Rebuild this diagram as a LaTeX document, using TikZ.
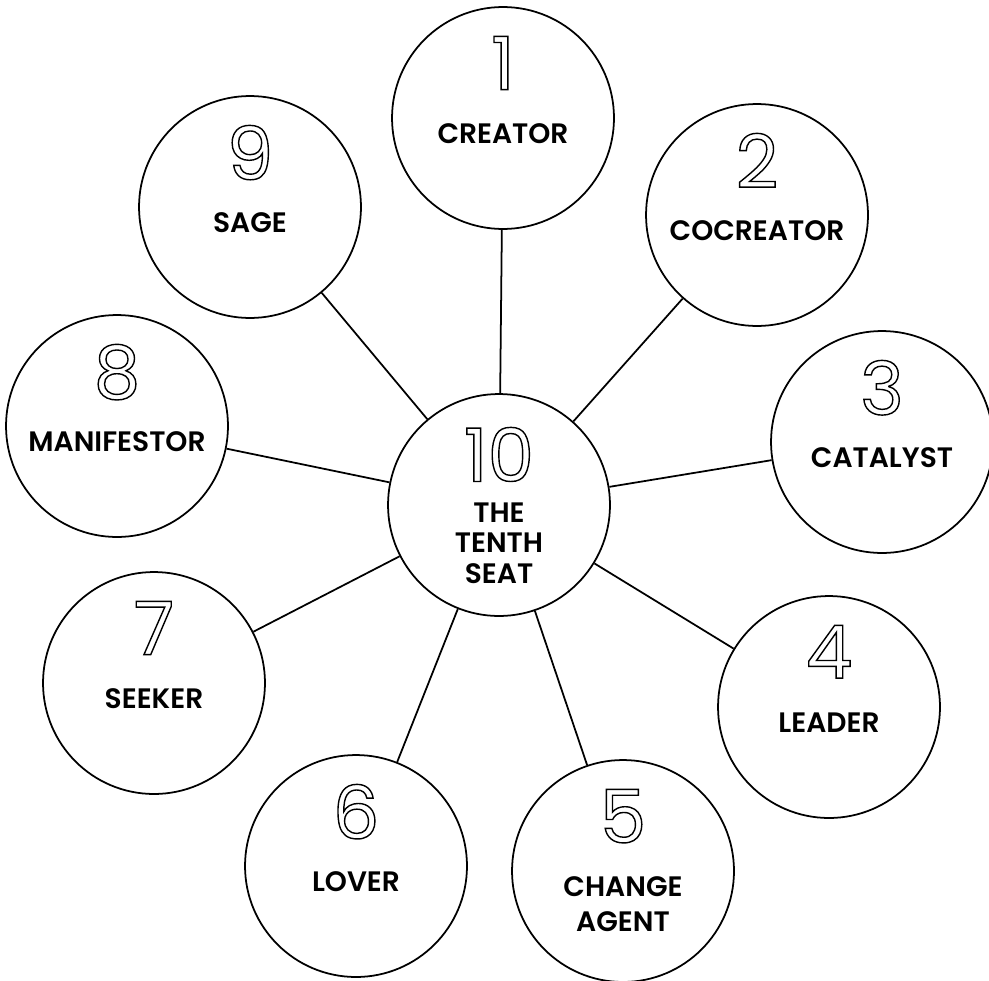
\documentclass[tikz,border=0pt]{standalone}
\usepackage{fontspec}
\setmainfont{Poppins}
\newfontfamily\seatfont{Poppins SemiBold}
\newfontfamily\numfont{Poppins}
\usepackage{tikz}
\usetikzlibrary{calc}

% hollow digits: stroke the glyph outlines only
\newcommand\hollow[1]{\special{pdf:literal direct q 1 Tr 0.8 w 0 G}#1\special{pdf:literal direct Q}}

\tikzset{
  seat/.style={circle, draw, line width=1pt, minimum size=4.44cm, inner sep=0pt},
  seatnum/.style={font=\numfont\fontsize{42}{42}\selectfont, inner sep=0pt, anchor=north},
  seatname/.style={font=\seatfont\fontsize{16}{19.8}\selectfont, align=center, inner sep=0pt, anchor=north},
}

\begin{document}
\begin{tikzpicture}[x=0.02cm, y=-0.02cm]
        \useasboundingbox (0,0) rectangle (989,980);
        \node[seat] (ten) at (499,505) {};
        \node[seatnum] (dten) at (499,427) {\hollow{10}};
        \node[seatname, font=\seatfont\fontsize{16}{17.6}\selectfont] (lten) at (499,502) {THE\\TENTH\\SEAT};

        \foreach \n/\px/\py/\name in {1/503/118/CREATOR, 2/757/215/COCREATOR, 3/882/442/CATALYST,
            4/829/707/LEADER, 5/623/871/{CHANGE\\AGENT}, 6/356/866/LOVER, 7/154/683/SEEKER,
            8/117/426/MANIFESTOR, 9/250/207/SAGE} {
                \node[seat] (s\n) at (\px,\py) {};
                \node[seatnum] (d\n) at (\px,\py-82) {\hollow{\n}};
                \node[seatname] (l\n) at (\px,\py+5) {\name};
                \draw[line width=1pt] (ten) -- (s\n);
        }
    \end{tikzpicture}
\end{document}
